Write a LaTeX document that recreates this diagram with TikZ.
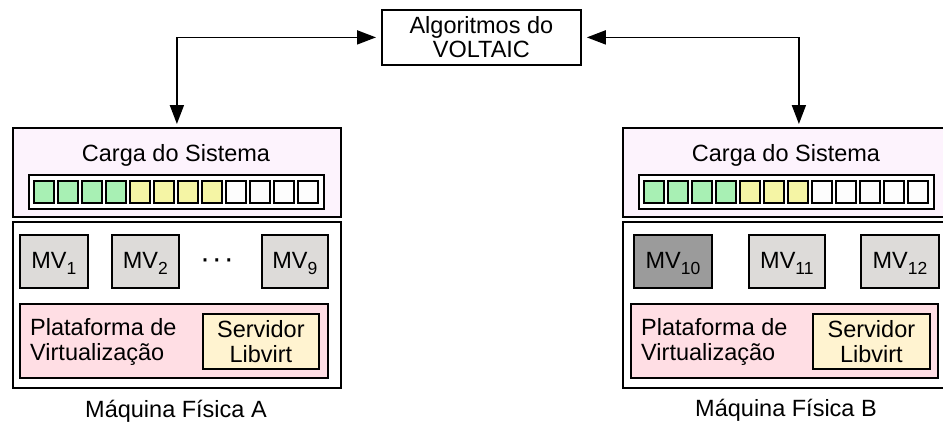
\documentclass[tikz,border=0pt]{standalone}
\usepackage{fontspec}
\setmainfont{Liberation Sans}
\usetikzlibrary{arrows.meta}

\definecolor{loadbg}{RGB}{253,243,253}
\definecolor{cgreen}{RGB}{168,240,180}
\definecolor{cyellow}{RGB}{245,245,165}
\definecolor{cwhite}{RGB}{253,253,253}
\definecolor{vmgrey}{RGB}{221,219,217}
\definecolor{vmdark}{RGB}{155,155,155}
\definecolor{platpink}{RGB}{255,222,228}
\definecolor{servcream}{RGB}{255,243,208}

% rectangle node given by its corners: name, style, x1, y1, x2, y2, text
\newcommand\rectnode[7]{%
  \node[box,#2,minimum width={#5-#3},minimum height={#6-#4}] (#1) at (#3,#4) {#7};}
% virtual machine label with a subscript index
\newcommand\vmlabel[1]{MV\raisebox{-6pt}{\fontsize{17.5}{17.5}\selectfont #1}}

\begin{document}
\begin{tikzpicture}[x=1pt,y=-1pt,
  box/.style={draw,line width=1.8pt,inner sep=0pt,anchor=north west,
    font=\fontsize{23.5}{25}\selectfont},
  cell/.style={draw,line width=1.6pt,inner sep=0pt,anchor=north west,
    minimum width=20,minimum height=22},
  vm/.style={fill=vmgrey,text height=20pt,text depth=5pt},
  txt/.style={inner sep=0pt,font=\fontsize{23.5}{25.5}\selectfont},
  link/.style={line width=1.8pt,
    {Triangle[length=19pt,width=14pt]}-{Triangle[length=19pt,width=14pt]},
    shorten <=5pt,shorten >=3pt}
]
\useasboundingbox[fill=white] (0,0) rectangle (943,423);

% central controller
\rectnode{alg}{align=center,font=\fontsize{23.5}{24}\selectfont}{381}{9}{580}{64}{Algoritmos do\\VOLTAIC}

% ---------- physical machine A ----------
\rectnode{cargaA}{fill=loadbg}{12}{127}{340}{216}{}
\node[txt,anchor=base] (tcargaA) at (176,161.5) {Carga do Sistema};
\rectnode{barA}{fill=white}{28}{174}{323}{208}{}
\foreach \i/\c in {0/cgreen,1/cgreen,2/cgreen,3/cgreen,4/cyellow,5/cyellow,
    6/cyellow,7/cyellow,8/cwhite,9/cwhite,10/cwhite,11/cwhite}
  \node[cell,fill=\c] (cA\i) at ({33+24*\i},180) {};

\rectnode{hostA}{fill=white}{12}{221}{340}{387}{}
\rectnode{mvA1}{vm}{19}{234}{87}{287}{\vmlabel{1}}
\rectnode{mvA2}{vm}{111}{234}{178}{287}{\vmlabel{2}}
\node[txt,anchor=base,font=\fontsize{30}{30}\selectfont] (dotsA) at (217,268) {·\hspace{2pt}·\hspace{2pt}·};
\rectnode{mvA9}{vm}{261}{234}{327}{287}{\vmlabel{9}}
\rectnode{platA}{fill=platpink}{19}{303}{327}{377}{}
\node[txt,anchor=west,align=left] (tplatA) at (30,342) {Plataforma de\\Virtualização};
\rectnode{servA}{fill=servcream,align=center,font=\fontsize{23.5}{25.5}\selectfont}{202}{313}{318}{368}{Servidor\\Libvirt}
\node[txt,anchor=base] (nameA) at (176,417) {Máquina Física A};

% ---------- physical machine B ----------
\rectnode{cargaB}{fill=loadbg}{622}{127}{950}{216}{}
\node[txt,anchor=base] (tcargaB) at (786,161.5) {Carga do Sistema};
\rectnode{barB}{fill=white}{638}{174}{933}{208}{}
\foreach \i/\c in {0/cgreen,1/cgreen,2/cgreen,3/cgreen,4/cyellow,5/cyellow,
    6/cyellow,7/cwhite,8/cwhite,9/cwhite,10/cwhite,11/cwhite}
  \node[cell,fill=\c] (cB\i) at ({643+24*\i},180) {};

\rectnode{hostB}{fill=white}{622}{221}{950}{387}{}
\rectnode{mvB10}{vm,fill=vmdark}{633}{234}{711}{287}{\vmlabel{10}}
\rectnode{mvB11}{vm}{748}{234}{824}{287}{\vmlabel{11}}
\rectnode{mvB12}{vm}{860}{234}{938}{287}{\vmlabel{12}}
\rectnode{platB}{fill=platpink}{630}{303}{937}{377}{}
\node[txt,anchor=west,align=left] (tplatB) at (641,342) {Plataforma de\\Virtualização};
\rectnode{servB}{fill=servcream,align=center,font=\fontsize{23.5}{25.5}\selectfont}{812}{313}{929}{368}{Servidor\\Libvirt}
\node[txt,anchor=base] (nameB) at (786,416.5) {Máquina Física B};

% links between the controller and the machines
\draw[link] (alg.west) -| (cargaA.north);
\draw[link] (alg.east) -| ([xshift=12pt]cargaB.north);
\end{tikzpicture}
\end{document}
